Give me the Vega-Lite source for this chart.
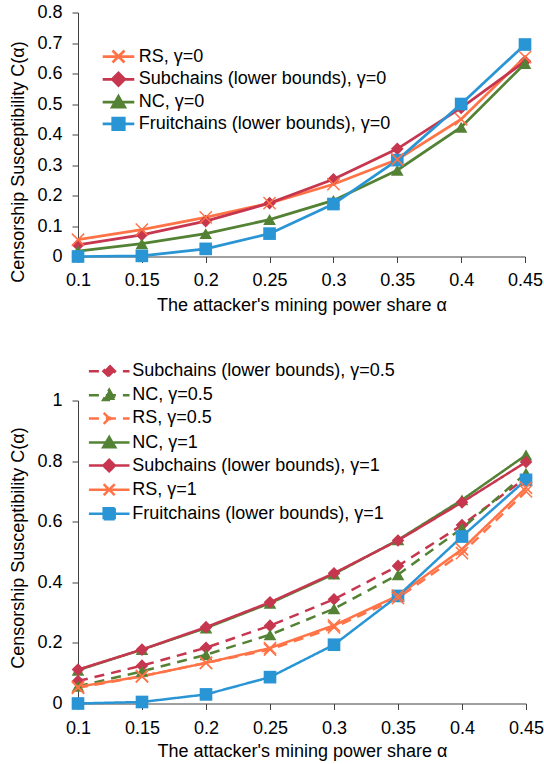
{
  "$schema": "https://vega.github.io/schema/vega-lite/v6.json",
  "background": "white",
  "padding": {"left": 9, "top": 3.5, "right": 0, "bottom": 0},
  "bounds": "flush",
  "spacing": 144,
  "config": {
    "font": "Liberation Sans",
    "view": {"stroke": null},
    "axis": {
      "grid": false,
      "domainColor": "#404040",
      "tickColor": "#404040",
      "domainWidth": 1,
      "tickWidth": 1,
      "tickSize": 6,
      "labelColor": "#000000",
      "titleColor": "#000000",
      "labelFont": "Liberation Sans",
      "titleFont": "Liberation Sans",
      "labelFontSize": 18,
      "titleFontSize": 18,
      "titleFontWeight": "normal"
    },
    "legend": {
      "orient": "none",
      "padding": 0,
      "labelFont": "Liberation Sans",
      "labelFontSize": 18,
      "labelColor": "#000000",
      "labelLimit": 500,
      "symbolSize": 100
    }
  },
  "vconcat": [
    {
      "width": 447,
      "height": 244,
      "data": {
        "values": [
          {"a": 0.1, "c": 0.055, "s": "RS, γ=0"},
          {"a": 0.15, "c": 0.088, "s": "RS, γ=0"},
          {"a": 0.2, "c": 0.128, "s": "RS, γ=0"},
          {"a": 0.25, "c": 0.175, "s": "RS, γ=0"},
          {"a": 0.3, "c": 0.237, "s": "RS, γ=0"},
          {"a": 0.35, "c": 0.318, "s": "RS, γ=0"},
          {"a": 0.4, "c": 0.45, "s": "RS, γ=0"},
          {"a": 0.45, "c": 0.654, "s": "RS, γ=0"},
          {"a": 0.1, "c": 0.038, "s": "Subchains (lower bounds), γ=0"},
          {"a": 0.15, "c": 0.071, "s": "Subchains (lower bounds), γ=0"},
          {"a": 0.2, "c": 0.116, "s": "Subchains (lower bounds), γ=0"},
          {"a": 0.25, "c": 0.175, "s": "Subchains (lower bounds), γ=0"},
          {"a": 0.3, "c": 0.253, "s": "Subchains (lower bounds), γ=0"},
          {"a": 0.35, "c": 0.353, "s": "Subchains (lower bounds), γ=0"},
          {"a": 0.4, "c": 0.487, "s": "Subchains (lower bounds), γ=0"},
          {"a": 0.45, "c": 0.64, "s": "Subchains (lower bounds), γ=0"},
          {"a": 0.1, "c": 0.018, "s": "NC, γ=0"},
          {"a": 0.15, "c": 0.042, "s": "NC, γ=0"},
          {"a": 0.2, "c": 0.075, "s": "NC, γ=0"},
          {"a": 0.25, "c": 0.121, "s": "NC, γ=0"},
          {"a": 0.3, "c": 0.184, "s": "NC, γ=0"},
          {"a": 0.35, "c": 0.283, "s": "NC, γ=0"},
          {"a": 0.4, "c": 0.424, "s": "NC, γ=0"},
          {"a": 0.45, "c": 0.633, "s": "NC, γ=0"},
          {"a": 0.1, "c": 0.0, "s": "Fruitchains (lower bounds), γ=0"},
          {"a": 0.15, "c": 0.002, "s": "Fruitchains (lower bounds), γ=0"},
          {"a": 0.2, "c": 0.025, "s": "Fruitchains (lower bounds), γ=0"},
          {"a": 0.25, "c": 0.075, "s": "Fruitchains (lower bounds), γ=0"},
          {"a": 0.3, "c": 0.172, "s": "Fruitchains (lower bounds), γ=0"},
          {"a": 0.35, "c": 0.316, "s": "Fruitchains (lower bounds), γ=0"},
          {"a": 0.4, "c": 0.5, "s": "Fruitchains (lower bounds), γ=0"},
          {"a": 0.45, "c": 0.695, "s": "Fruitchains (lower bounds), γ=0"}
        ]
      },
      "encoding": {
        "x": {
          "field": "a", "type": "quantitative",
          "scale": {"domain": [0.1, 0.45], "nice": false, "zero": false},
          "axis": {
            "values": [0.1, 0.15, 0.2, 0.25, 0.3, 0.35, 0.4, 0.45],
            "format": "~g", "labelFlush": false, "labelPadding": 9,
            "title": "The attacker's mining power share α", "titlePadding": 7
          }
        },
        "y": {
          "field": "c", "type": "quantitative",
          "scale": {"domain": [0, 0.8], "nice": false},
          "axis": {
            "values": [0, 0.1, 0.2, 0.3, 0.4, 0.5, 0.6, 0.7, 0.8],
            "format": "~g", "labelPadding": 10,
            "title": "Censorship Susceptibility C(α)", "titlePadding": 9, "titleY": 149
          }
        }
      },
      "layer": [
        {
          "mark": {"type": "line", "strokeWidth": 2.75},
          "encoding": {
            "color": {
              "field": "s", "type": "nominal",
              "scale": {
                "domain": ["RS, γ=0", "Subchains (lower bounds), γ=0", "NC, γ=0", "Fruitchains (lower bounds), γ=0"],
                "range": ["#FF7347", "#C7364F", "#548235", "#2A95D5"]
              },
              "legend": {
                "title": null,
                "legendX": 31.5, "legendY": 35,
                "labelOffset": 11.2, "rowPadding": -1.2,
                "encode": {
                  "symbols": {
                    "update": {
                      "shape": {"signal": "indexof(datum.value,'RS')===0 ? 'M-3.16,0L3.16,0M-1.2,-1.2L1.2,1.2M-1.2,1.2L1.2,-1.2' : indexof(datum.value,'Sub')===0 ? 'M-3.16,0L3.16,0M0,-1.25L1.25,0L0,1.25L-1.25,0Z' : indexof(datum.value,'NC')===0 ? 'M-3.16,0L3.16,0M0,-1.15L1.25,1L-1.25,1Z' : 'M-3.16,0L3.16,0M-1.15,-1.15L1.15,-1.15L1.15,1.15L-1.15,1.15Z'"},
                      "fill": {"signal": "indexof(datum.value,'RS')===0 ? '#FF7347' : indexof(datum.value,'Sub')===0 ? '#C7364F' : indexof(datum.value,'NC')===0 ? '#548235' : '#2A95D5'"},
                      "stroke": {"signal": "indexof(datum.value,'RS')===0 ? '#FF7347' : indexof(datum.value,'Sub')===0 ? '#C7364F' : indexof(datum.value,'NC')===0 ? '#548235' : '#2A95D5'"},
                      "strokeWidth": {"value": 2.75},
                      "opacity": {"value": 1}
                    }
                  }
                }
              }
            }
          }
        },
        {
          "transform": [{"filter": "indexof(datum.s,'RS')!==0"}],
          "mark": {"type": "point", "filled": true, "size": 160, "opacity": 1, "strokeWidth": 0.5},
          "encoding": {
            "shape": {
              "field": "s", "type": "nominal",
              "scale": {
                "domain": ["Subchains (lower bounds), γ=0", "NC, γ=0", "Fruitchains (lower bounds), γ=0"],
                "range": ["diamond", "triangle-up", "square"]
              },
              "legend": null
            },
            "fill": {
              "field": "s", "type": "nominal",
              "scale": {
                "domain": ["Subchains (lower bounds), γ=0", "NC, γ=0", "Fruitchains (lower bounds), γ=0"],
                "range": ["#C7364F", "#548235", "#2A95D5"]
              },
              "legend": null
            }
          }
        },
        {
          "transform": [{"filter": "indexof(datum.s,'RS')===0"}],
          "mark": {"type": "point", "filled": false, "shape": "M-1,-1L1,1M-1,1L1,-1", "size": 150, "strokeWidth": 1.5, "opacity": 1, "color": "#FF7347"},
          "encoding": {}
        }
      ]
    },
    {
      "width": 448,
      "height": 303,
      "data": {
        "values": [
          {"a": 0.1, "c": 0.074, "s": "Subchains (lower bounds), γ=0.5"},
          {"a": 0.15, "c": 0.125, "s": "Subchains (lower bounds), γ=0.5"},
          {"a": 0.2, "c": 0.184, "s": "Subchains (lower bounds), γ=0.5"},
          {"a": 0.25, "c": 0.257, "s": "Subchains (lower bounds), γ=0.5"},
          {"a": 0.3, "c": 0.344, "s": "Subchains (lower bounds), γ=0.5"},
          {"a": 0.35, "c": 0.454, "s": "Subchains (lower bounds), γ=0.5"},
          {"a": 0.4, "c": 0.589, "s": "Subchains (lower bounds), γ=0.5"},
          {"a": 0.45, "c": 0.745, "s": "Subchains (lower bounds), γ=0.5"},
          {"a": 0.1, "c": 0.057, "s": "NC, γ=0.5"},
          {"a": 0.15, "c": 0.106, "s": "NC, γ=0.5"},
          {"a": 0.2, "c": 0.161, "s": "NC, γ=0.5"},
          {"a": 0.25, "c": 0.227, "s": "NC, γ=0.5"},
          {"a": 0.3, "c": 0.313, "s": "NC, γ=0.5"},
          {"a": 0.35, "c": 0.425, "s": "NC, γ=0.5"},
          {"a": 0.4, "c": 0.578, "s": "NC, γ=0.5"},
          {"a": 0.45, "c": 0.76, "s": "NC, γ=0.5"},
          {"a": 0.1, "c": 0.052, "s": "RS, γ=0.5"},
          {"a": 0.15, "c": 0.09, "s": "RS, γ=0.5"},
          {"a": 0.2, "c": 0.134, "s": "RS, γ=0.5"},
          {"a": 0.25, "c": 0.178, "s": "RS, γ=0.5"},
          {"a": 0.3, "c": 0.251, "s": "RS, γ=0.5"},
          {"a": 0.35, "c": 0.348, "s": "RS, γ=0.5"},
          {"a": 0.4, "c": 0.496, "s": "RS, γ=0.5"},
          {"a": 0.45, "c": 0.7, "s": "RS, γ=0.5"},
          {"a": 0.1, "c": 0.11, "s": "NC, γ=1"},
          {"a": 0.15, "c": 0.178, "s": "NC, γ=1"},
          {"a": 0.2, "c": 0.249, "s": "NC, γ=1"},
          {"a": 0.25, "c": 0.331, "s": "NC, γ=1"},
          {"a": 0.3, "c": 0.427, "s": "NC, γ=1"},
          {"a": 0.35, "c": 0.54, "s": "NC, γ=1"},
          {"a": 0.4, "c": 0.672, "s": "NC, γ=1"},
          {"a": 0.45, "c": 0.82, "s": "NC, γ=1"},
          {"a": 0.1, "c": 0.112, "s": "Subchains (lower bounds), γ=1"},
          {"a": 0.15, "c": 0.178, "s": "Subchains (lower bounds), γ=1"},
          {"a": 0.2, "c": 0.252, "s": "Subchains (lower bounds), γ=1"},
          {"a": 0.25, "c": 0.334, "s": "Subchains (lower bounds), γ=1"},
          {"a": 0.3, "c": 0.43, "s": "Subchains (lower bounds), γ=1"},
          {"a": 0.35, "c": 0.538, "s": "Subchains (lower bounds), γ=1"},
          {"a": 0.4, "c": 0.664, "s": "Subchains (lower bounds), γ=1"},
          {"a": 0.45, "c": 0.797, "s": "Subchains (lower bounds), γ=1"},
          {"a": 0.1, "c": 0.055, "s": "RS, γ=1"},
          {"a": 0.15, "c": 0.09, "s": "RS, γ=1"},
          {"a": 0.2, "c": 0.134, "s": "RS, γ=1"},
          {"a": 0.25, "c": 0.183, "s": "RS, γ=1"},
          {"a": 0.3, "c": 0.258, "s": "RS, γ=1"},
          {"a": 0.35, "c": 0.356, "s": "RS, γ=1"},
          {"a": 0.4, "c": 0.509, "s": "RS, γ=1"},
          {"a": 0.45, "c": 0.712, "s": "RS, γ=1"},
          {"a": 0.1, "c": 0.0, "s": "Fruitchains (lower bounds), γ=1"},
          {"a": 0.15, "c": 0.005, "s": "Fruitchains (lower bounds), γ=1"},
          {"a": 0.2, "c": 0.03, "s": "Fruitchains (lower bounds), γ=1"},
          {"a": 0.25, "c": 0.087, "s": "Fruitchains (lower bounds), γ=1"},
          {"a": 0.3, "c": 0.194, "s": "Fruitchains (lower bounds), γ=1"},
          {"a": 0.35, "c": 0.355, "s": "Fruitchains (lower bounds), γ=1"},
          {"a": 0.4, "c": 0.551, "s": "Fruitchains (lower bounds), γ=1"},
          {"a": 0.45, "c": 0.738, "s": "Fruitchains (lower bounds), γ=1"}
        ]
      },
      "encoding": {
        "x": {
          "field": "a", "type": "quantitative",
          "scale": {"domain": [0.1, 0.45], "nice": false, "zero": false},
          "axis": {
            "values": [0.1, 0.15, 0.2, 0.25, 0.3, 0.35, 0.4, 0.45],
            "format": "~g", "labelFlush": false, "labelPadding": 10,
            "title": "The attacker's mining power share α", "titlePadding": 5
          }
        },
        "y": {
          "field": "c", "type": "quantitative",
          "scale": {"domain": [0, 1], "nice": false},
          "axis": {
            "values": [0, 0.2, 0.4, 0.6, 0.8, 1],
            "format": "~g", "labelPadding": 10,
            "title": "Censorship Susceptibility C(α)", "titlePadding": 9, "titleY": 147
          }
        }
      },
      "layer": [
        {
          "mark": {"type": "line", "strokeWidth": 2.5},
          "encoding": {
            "color": {
              "field": "s", "type": "nominal",
              "scale": {
                "domain": ["Subchains (lower bounds), γ=0.5", "NC, γ=0.5", "RS, γ=0.5", "NC, γ=1", "Subchains (lower bounds), γ=1", "RS, γ=1", "Fruitchains (lower bounds), γ=1"],
                "range": ["#C7364F", "#548235", "#FF7347", "#548235", "#C7364F", "#FF7347", "#2A95D5"]
              },
              "legend": {
                "title": null,
                "legendX": 22.2, "legendY": -38.3,
                "labelOffset": 14, "rowPadding": 2.1,
                "encode": {
                  "symbols": {
                    "update": {
                      "shape": {"signal": "indexof(datum.value,'RS')===0 ? 'M-4.06,0L4.06,0M-1.1,-1.1L1.1,1.1M-1.1,1.1L1.1,-1.1' : indexof(datum.value,'Sub')===0 ? 'M-4.06,0L4.06,0M0,-1.15L1.15,0L0,1.15L-1.15,0Z' : indexof(datum.value,'NC')===0 ? 'M-4.06,0L4.06,0M0,-1.1L1.2,0.95L-1.2,0.95Z' : 'M-4.06,0L4.06,0M-1.1,-1.1L1.1,-1.1L1.1,1.1L-1.1,1.1Z'"},
                      "fill": {"signal": "indexof(datum.value,'RS')===0 ? '#FF7347' : indexof(datum.value,'Sub')===0 ? '#C7364F' : indexof(datum.value,'NC')===0 ? '#548235' : '#2A95D5'"},
                      "stroke": {"signal": "indexof(datum.value,'RS')===0 ? '#FF7347' : indexof(datum.value,'Sub')===0 ? '#C7364F' : indexof(datum.value,'NC')===0 ? '#548235' : '#2A95D5'"},
                      "strokeDash": {"signal": "indexof(datum.value,'0.5')>0 ? [10,7.5] : [1,0]"},
                      "strokeWidth": {"value": 2.5},
                      "opacity": {"value": 1}
                    }
                  }
                }
              }
            },
            "strokeDash": {
              "field": "s", "type": "nominal",
              "scale": {
                "domain": ["Subchains (lower bounds), γ=0.5", "NC, γ=0.5", "RS, γ=0.5", "NC, γ=1", "Subchains (lower bounds), γ=1", "RS, γ=1", "Fruitchains (lower bounds), γ=1"],
                "range": [[10, 7], [10, 7], [10, 7], [1, 0], [1, 0], [1, 0], [1, 0]]
              },
              "legend": null
            }
          }
        },
        {
          "transform": [{"filter": "indexof(datum.s,'RS')!==0"}],
          "mark": {"type": "point", "filled": true, "size": 160, "opacity": 1, "strokeWidth": 0.5},
          "encoding": {
            "shape": {
              "field": "s", "type": "nominal",
              "scale": {
                "domain": ["Subchains (lower bounds), γ=0.5", "NC, γ=0.5", "NC, γ=1", "Subchains (lower bounds), γ=1", "Fruitchains (lower bounds), γ=1"],
                "range": ["diamond", "triangle-up", "triangle-up", "diamond", "square"]
              },
              "legend": null
            },
            "fill": {
              "field": "s", "type": "nominal",
              "scale": {
                "domain": ["Subchains (lower bounds), γ=0.5", "NC, γ=0.5", "NC, γ=1", "Subchains (lower bounds), γ=1", "Fruitchains (lower bounds), γ=1"],
                "range": ["#C7364F", "#548235", "#548235", "#C7364F", "#2A95D5"]
              },
              "legend": null
            }
          }
        },
        {
          "transform": [{"filter": "indexof(datum.s,'RS')===0"}],
          "mark": {"type": "point", "filled": false, "shape": "M-1,-1L1,1M-1,1L1,-1", "size": 150, "strokeWidth": 1.5, "opacity": 1, "color": "#FF7347"},
          "encoding": {}
        }
      ]
    }
  ],
  "resolve": {
    "scale": {"x": "independent", "y": "independent", "color": "independent", "fill": "independent", "shape": "independent", "strokeDash": "independent"},
    "legend": {"color": "independent"}
  }
}
